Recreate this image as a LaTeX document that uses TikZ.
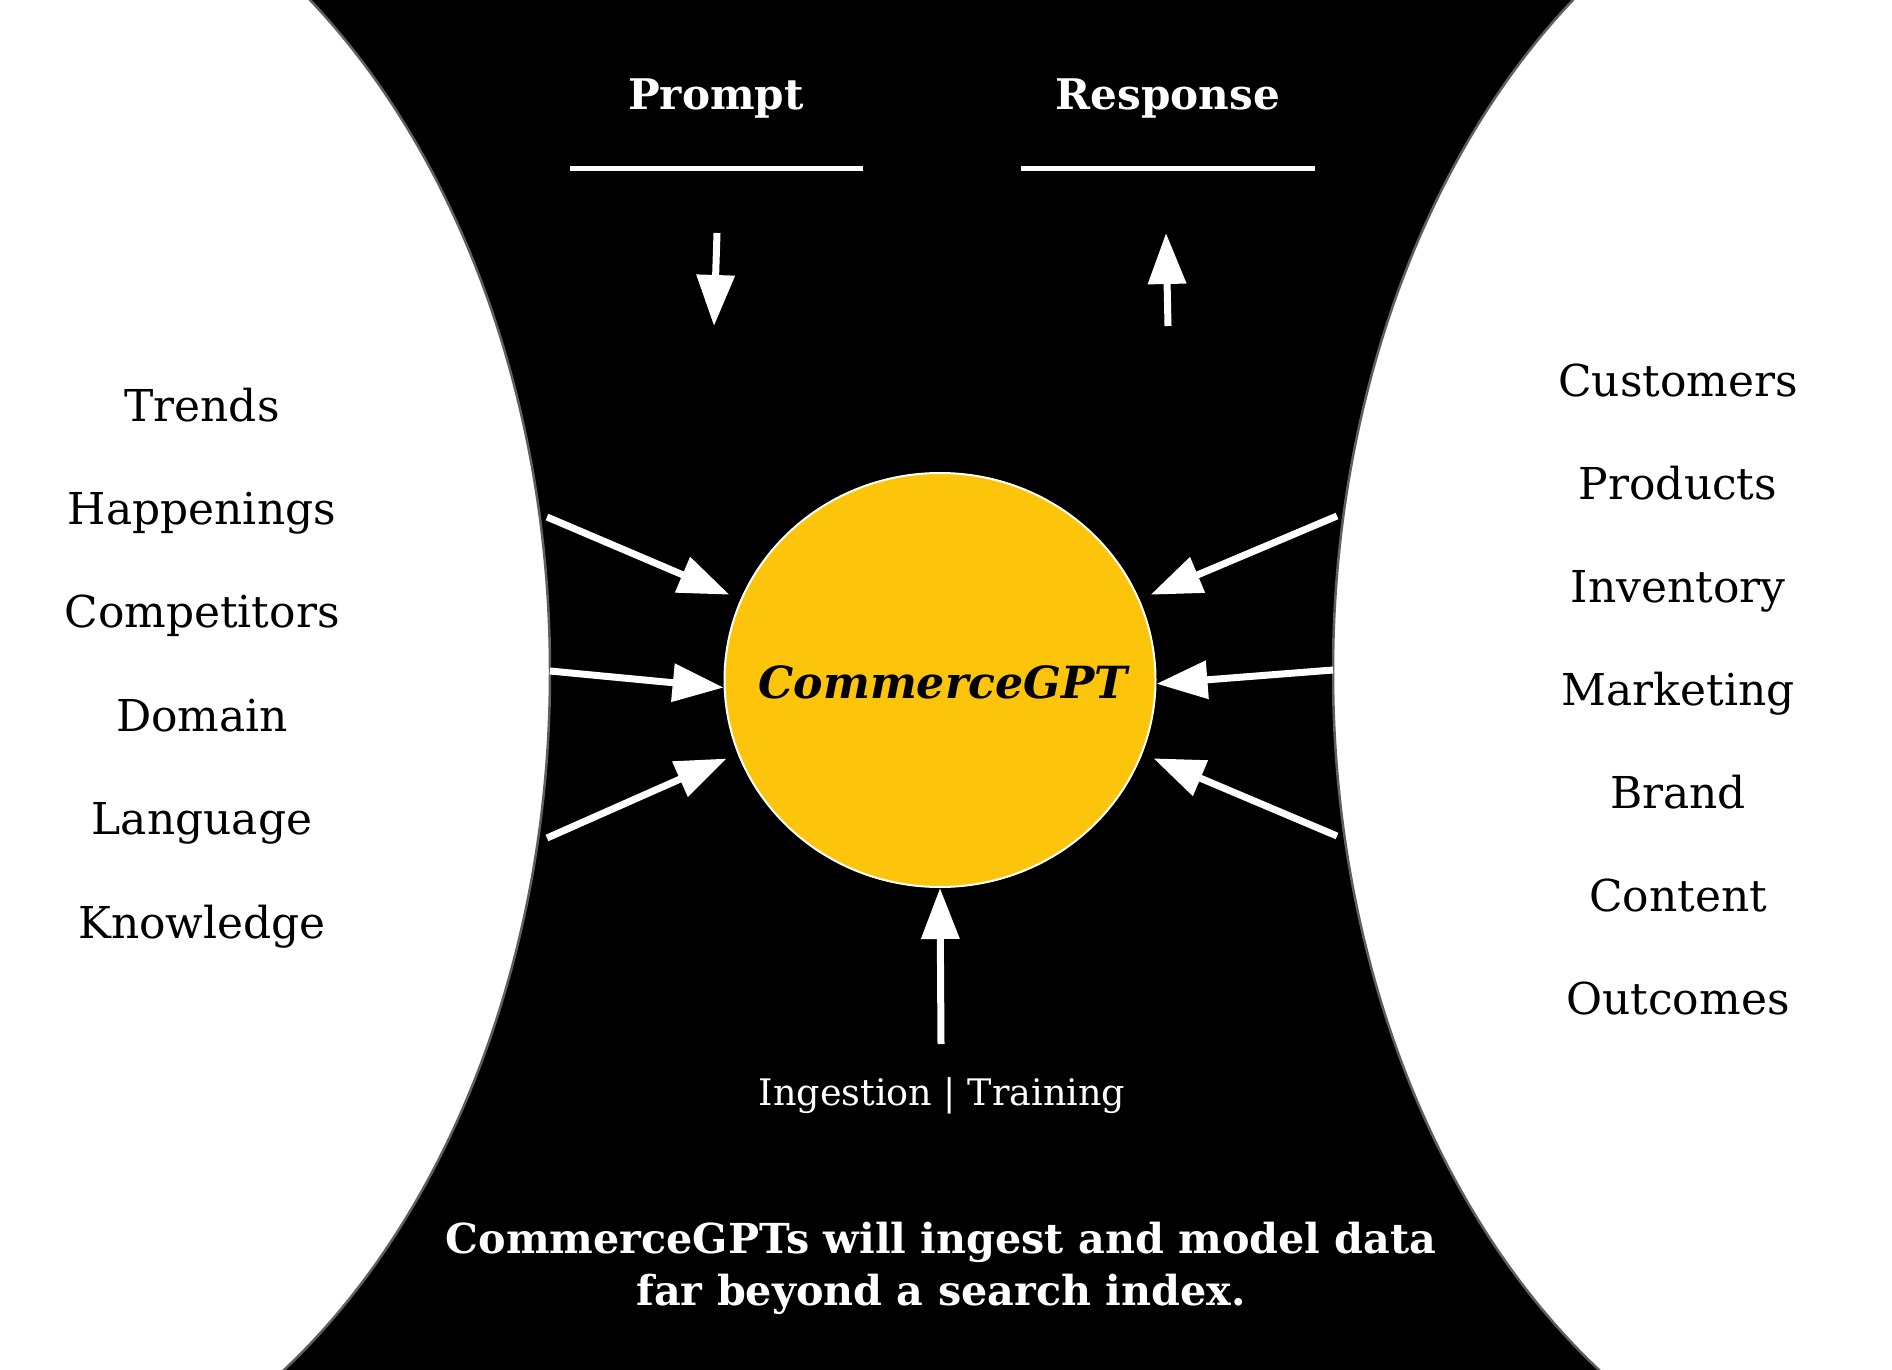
\documentclass[tikz,border=0pt]{standalone}
\usepackage{fontspec}
\setmainfont{DejaVu Serif}
\usetikzlibrary{arrows.meta,shapes.geometric}
\definecolor{gptyellow}{RGB}{252,196,10}
\definecolor{rimgray}{RGB}{95,95,95}
\begin{document}
\begin{tikzpicture}[x=0.1mm, y=-0.1mm, line join=round,
	arr/.style={white, line width=0.7mm, -{Triangle[length=5.1mm,width=3.7mm]}},
	bar/.style={white, line width=0.5mm},
	side/.style={fill=white, draw=rimgray, line width=0.25mm},
	lbl/.style={anchor=base, text=black, font=\fontsize{12.5}{15}\selectfont},
	head/.style={anchor=base, text=white, font=\bfseries\fontsize{12}{15}\selectfont}]
	\useasboundingbox (0,0) rectangle (1892,1370);
	\clip (0,0) rectangle (1892,1370);
	\fill[black] (0,0) rectangle (1892,1370);
	\path[side] (-50,672) ellipse [x radius=600, y radius=840];
	\path[side] (1933,672) ellipse [x radius=600, y radius=840];
	\path
	(570,169) coordinate (pa) (863,169) coordinate (pb)
	(1021,169) coordinate (ra) (1315,169) coordinate (rb)
	(717,233) coordinate (pin) (714,326) coordinate (pout)
	(1168,326) coordinate (rin) (1166,233) coordinate (rout)
	(547,517) coordinate (lt) (550,671) coordinate (lm) (547,838) coordinate (lb)
	(1337,516) coordinate (rt) (1333,670) coordinate (rm) (1337,836) coordinate (rbt)
	(941,1044) coordinate (feed)
	;
	\node[ellipse, fill=gptyellow, draw=white, line width=0.2mm, inner sep=0,
	minimum width=43.1mm, minimum height=41.4mm] (gpt) at (940,680) {};
	\node[anchor=base, font=\bfseries\itshape\fontsize{12.6}{15}\selectfont] (name) at (943,698) {CommerceGPT};
	\node[head] (prompt) at (716,110) {Prompt};
	\node[head] (response) at (1168,110) {Response};
	\draw[bar] (pa)--(pb) (ra)--(rb);
	\draw[arr] (pin)--(pout);
	\draw[arr] (rin)--(rout);
	\foreach \t/\a/\g in {lt/158/1.2,lm/182/0,lb/200/1.2,rt/22/1.2,rm/-1/0,rbt/-20/1.2}
	\draw[arr, shorten >=\g mm] (\t)--(gpt.\a);
	\draw[arr] (feed)--(gpt.south);
	\node[anchor=base, text=white, font=\fontsize{10.4}{12}\selectfont] (ingest) at (942,1105) {Ingestion | Training};
	\node[align=center, text=white, font=\bfseries\fontsize{11.75}{14.8}\selectfont] (summary) at (941,1268)
	{CommerceGPTs will ingest and model data\\far beyond a search index.};
	\foreach \t [count=\i] in {Trends,Happenings,Competitors,Domain,Language,Knowledge}
	\node[lbl] (l\i) at (202,421+103.4*\i-103.4) {\t};
	\foreach \t [count=\i] in {Customers,Products,Inventory,Marketing,Brand,Content,Outcomes}
	\node[lbl] (r\i) at (1678,396+103*\i-103) {\t};
\end{tikzpicture}
\end{document}
